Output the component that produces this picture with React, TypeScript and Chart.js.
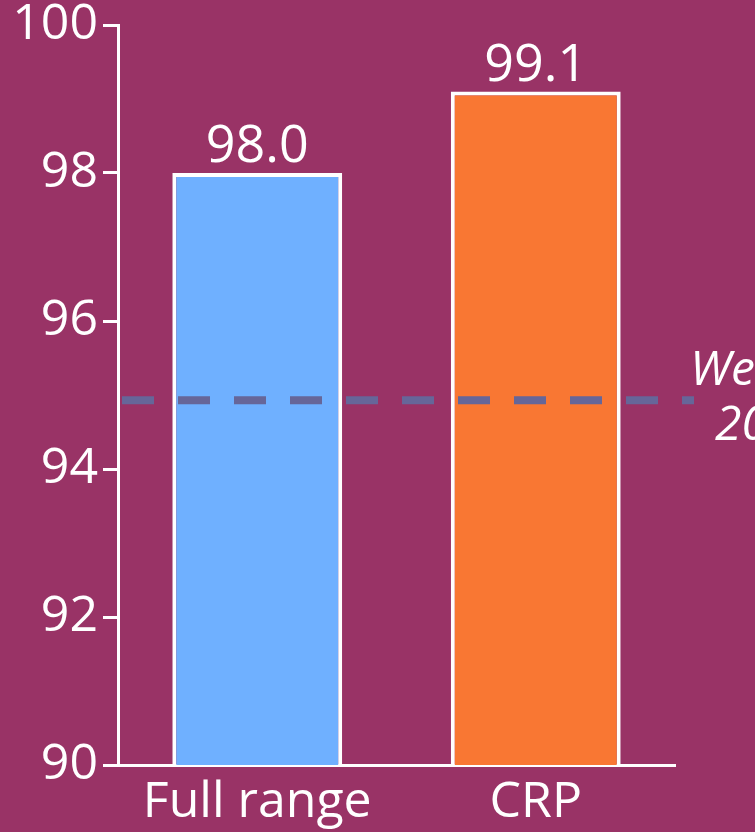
import React, { useEffect, useRef } from "react";
import { Chart, registerables } from "chart.js";

Chart.register(...registerables);

const categories = ["Full range", "CRP"];
const values = [98.0, 99.1];
const barColors = ["#6FB0FF", "#F97733"];
const yTicks = [90, 92, 94, 96, 98, 100];
const referenceValue = 94.93;
const referenceLabel = ["We", "20"];

const BG = "#993366";
const FONT = "'Open Sans', 'DejaVu Sans', sans-serif";

export default function App() {
  const ref = useRef<HTMLCanvasElement | null>(null);

  useEffect(() => {
    document.body.style.margin = "0";
    const canvas = ref.current;
    if (!canvas) return;

    const valueLabels = {
      id: "valueLabels",
      afterDatasetsDraw(chart: any) {
        const ctx = chart.ctx;
        const meta = chart.getDatasetMeta(0);
        ctx.save();
        ctx.fillStyle = "#ffffff";
        ctx.font = `52px ${FONT}`;
        ctx.textAlign = "center";
        ctx.textBaseline = "alphabetic";
        meta.data.forEach((bar: any, i: number) => {
          ctx.fillText(values[i].toFixed(1), bar.x, bar.y - 11);
        });
        ctx.restore();
      },
    };

    const refLine = {
      id: "refLine",
      afterDatasetsDraw(chart: any) {
        const ctx = chart.ctx;
        const y = chart.scales.y.getPixelForValue(referenceValue);
        const left = chart.chartArea.left + 4;
        ctx.save();
        ctx.strokeStyle = "#666699";
        ctx.lineWidth = 8;
        ctx.setLineDash([32, 24]);
        ctx.lineCap = "butt";
        ctx.beginPath();
        ctx.moveTo(left, y);
        ctx.lineTo(694, y);
        ctx.stroke();
        ctx.setLineDash([]);
        ctx.fillStyle = "#ffffff";
        ctx.font = `italic 48px ${FONT}`;
        ctx.textAlign = "left";
        ctx.textBaseline = "alphabetic";
        ctx.fillText(referenceLabel[0], 690, y - 15);
        ctx.fillText(referenceLabel[1], 715, y + 40);
        ctx.restore();
      },
    };

    const chart = new Chart(canvas, {
      type: "bar",
      data: {
        labels: categories,
        datasets: [
          {
            data: values,
            backgroundColor: barColors,
            borderColor: "#ffffff",
            borderWidth: 4,
            borderSkipped: "bottom",
            categoryPercentage: 0.61,
            barPercentage: 1,
          },
        ],
      },
      options: {
        animation: false,
        responsive: false,
        devicePixelRatio: 1,
        layout: { padding: { top: 20, right: 80, left: 0, bottom: 0 } },
        plugins: {
          legend: { display: false },
          tooltip: { enabled: false },
        },
        scales: {
          x: {
            grid: { display: false, drawTicks: false },
            border: { color: "#ffffff", width: 3 },
            ticks: {
              color: "#ffffff",
              font: { family: FONT, size: 50, lineHeight: 0.8 },
              padding: 18,
            },
            afterFit(scale: any) {
              scale.height = 67;
            },
          },
          y: {
            min: 90,
            max: 100,
            afterBuildTicks(scale: any) {
              scale.ticks = yTicks.map((v) => ({ value: v }));
            },
            grid: {
              drawOnChartArea: false,
              drawTicks: true,
              tickLength: 15,
              tickWidth: 3,
              tickColor: "#ffffff",
            },
            border: { color: "#ffffff", width: 3 },
            ticks: {
              color: "#ffffff",
              font: { family: FONT, size: 50, lineHeight: 0.8 },
              padding: 5,
            },
            afterFit(scale: any) {
              scale.width = 118;
            },
          },
        },
      },
      plugins: [refLine, valueLabels],
    });

    return () => chart.destroy();
  }, []);

  return (
    <div
      style={{
        position: "fixed",
        left: 0,
        top: 0,
        width: 755,
        height: 832,
        background: BG,
        overflow: "hidden",
      }}
    >
      <canvas ref={ref} width={755} height={832} style={{ display: "block" }} />
    </div>
  );
}
